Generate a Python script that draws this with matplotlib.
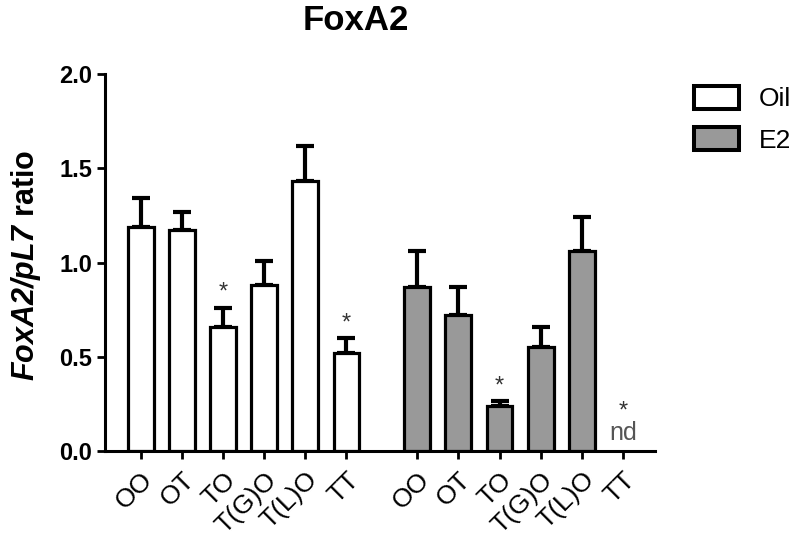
import matplotlib
matplotlib.use("Agg")
import matplotlib.pyplot as plt
from matplotlib.patches import Patch
import numpy as np

plt.rcParams['font.family'] = ['Liberation Sans', 'DejaVu Sans']
plt.rcParams['mathtext.fontset'] = 'custom'
plt.rcParams['mathtext.rm'] = 'Liberation Sans'
plt.rcParams['mathtext.it'] = 'Liberation Sans:italic'
plt.rcParams['mathtext.bf'] = 'Liberation Sans:bold'
plt.rcParams['mathtext.bfit'] = 'Liberation Sans:italic:bold'

categories = ["OO", "OT", "TO", "T(G)O", "T(L)O", "TT"]
oil_mean = [1.19, 1.17, 0.66, 0.88, 1.43, 0.52]
oil_err = [0.15, 0.10, 0.10, 0.13, 0.19, 0.08]
e2_mean = [0.87, 0.72, 0.24, 0.55, 1.06, 0.0]
e2_err = [0.19, 0.15, 0.025, 0.11, 0.18, 0.0]
oil_sig = [False, False, True, False, False, True]
e2_sig = [False, False, True, False, False, True]
e2_nd = [False, False, False, False, False, True]
group_gap = 0.72

fig = plt.figure(figsize=(8, 5.58), dpi=100)
ax = fig.add_axes([105/800, 1-451/558, 550/800, 377/558])

n = len(categories)
x1 = np.arange(n)
x2 = np.arange(n) + n + group_gap
w = 0.63
edge_lw = 2.3

ekw = dict(elinewidth=3.0, capthick=3.0, capsize=6.5, ecolor='black')
for xs, means, errs, fc in [(x1, oil_mean, oil_err, 'white'), (x2, e2_mean, e2_err, '#999999')]:
    for xi, m, e in zip(xs, means, errs):
        if m <= 0:
            continue
        ax.bar(xi, m, width=w, color=fc, edgecolor='black', linewidth=edge_lw, zorder=2)
        ax.errorbar(xi, m, yerr=[[0], [e]], fmt='none', zorder=1, **ekw)

star_kw = dict(ha='center', va='bottom', fontsize=17, color='#333333')
for xi, m, e, s in zip(x1, oil_mean, oil_err, oil_sig):
    if s:
        ax.text(xi, m + e + 0.02, '*', **star_kw)
for xi, m, e, s, nd in zip(x2, e2_mean, e2_err, e2_sig, e2_nd):
    if nd:
        ax.text(xi, 0.03, 'nd', ha='center', va='bottom', fontsize=18, color='#555555')
        ax.text(xi, 0.15, '*', **star_kw)
    elif s:
        ax.text(xi, m + e + 0.02, '*', **star_kw)

ax.set_xlim(-0.87, x2[-1] + 0.78)
ax.set_ylim(0, 2.0)
ax.set_yticks([0, 0.5, 1.0, 1.5, 2.0])
ax.set_yticklabels(['0.0', '0.5', '1.0', '1.5', '2.0'], fontsize=17, fontweight='bold')
ax.set_xticks(np.concatenate([x1, x2]))
ax.set_xticklabels(categories + categories, rotation=45, ha='right',
                   rotation_mode='anchor', fontsize=19)
ax.tick_params(axis='both', direction='out', length=6, width=2.0, pad=3)
ax.tick_params(axis='x', pad=6)
for s in ['top', 'right']:
    ax.spines[s].set_visible(False)
for s in ['left', 'bottom']:
    ax.spines[s].set_linewidth(2.2)

fig.text(26/800, 1-265/558, r'$\mathbfit{FoxA2/pL7}$ ratio', rotation=90,
         ha='center', va='center', fontsize=22, fontweight='bold')
fig.text(356/800, 1-20/558, 'FoxA2', ha='center', va='center', fontsize=25, fontweight='bold')

handles = [Patch(facecolor='white', edgecolor='black', linewidth=edge_lw + 0.6),
           Patch(facecolor='#999999', edgecolor='black', linewidth=edge_lw + 0.6)]
fig.legend(handles, ['Oil', 'E2'], loc='upper left', bbox_to_anchor=(694/800, 1-86/558),
           frameon=False, fontsize=19, handlelength=1.7, handleheight=0.95,
           labelspacing=0.6, handletextpad=0.75, borderpad=0, borderaxespad=0)

fig.savefig('out.png', dpi=100)
